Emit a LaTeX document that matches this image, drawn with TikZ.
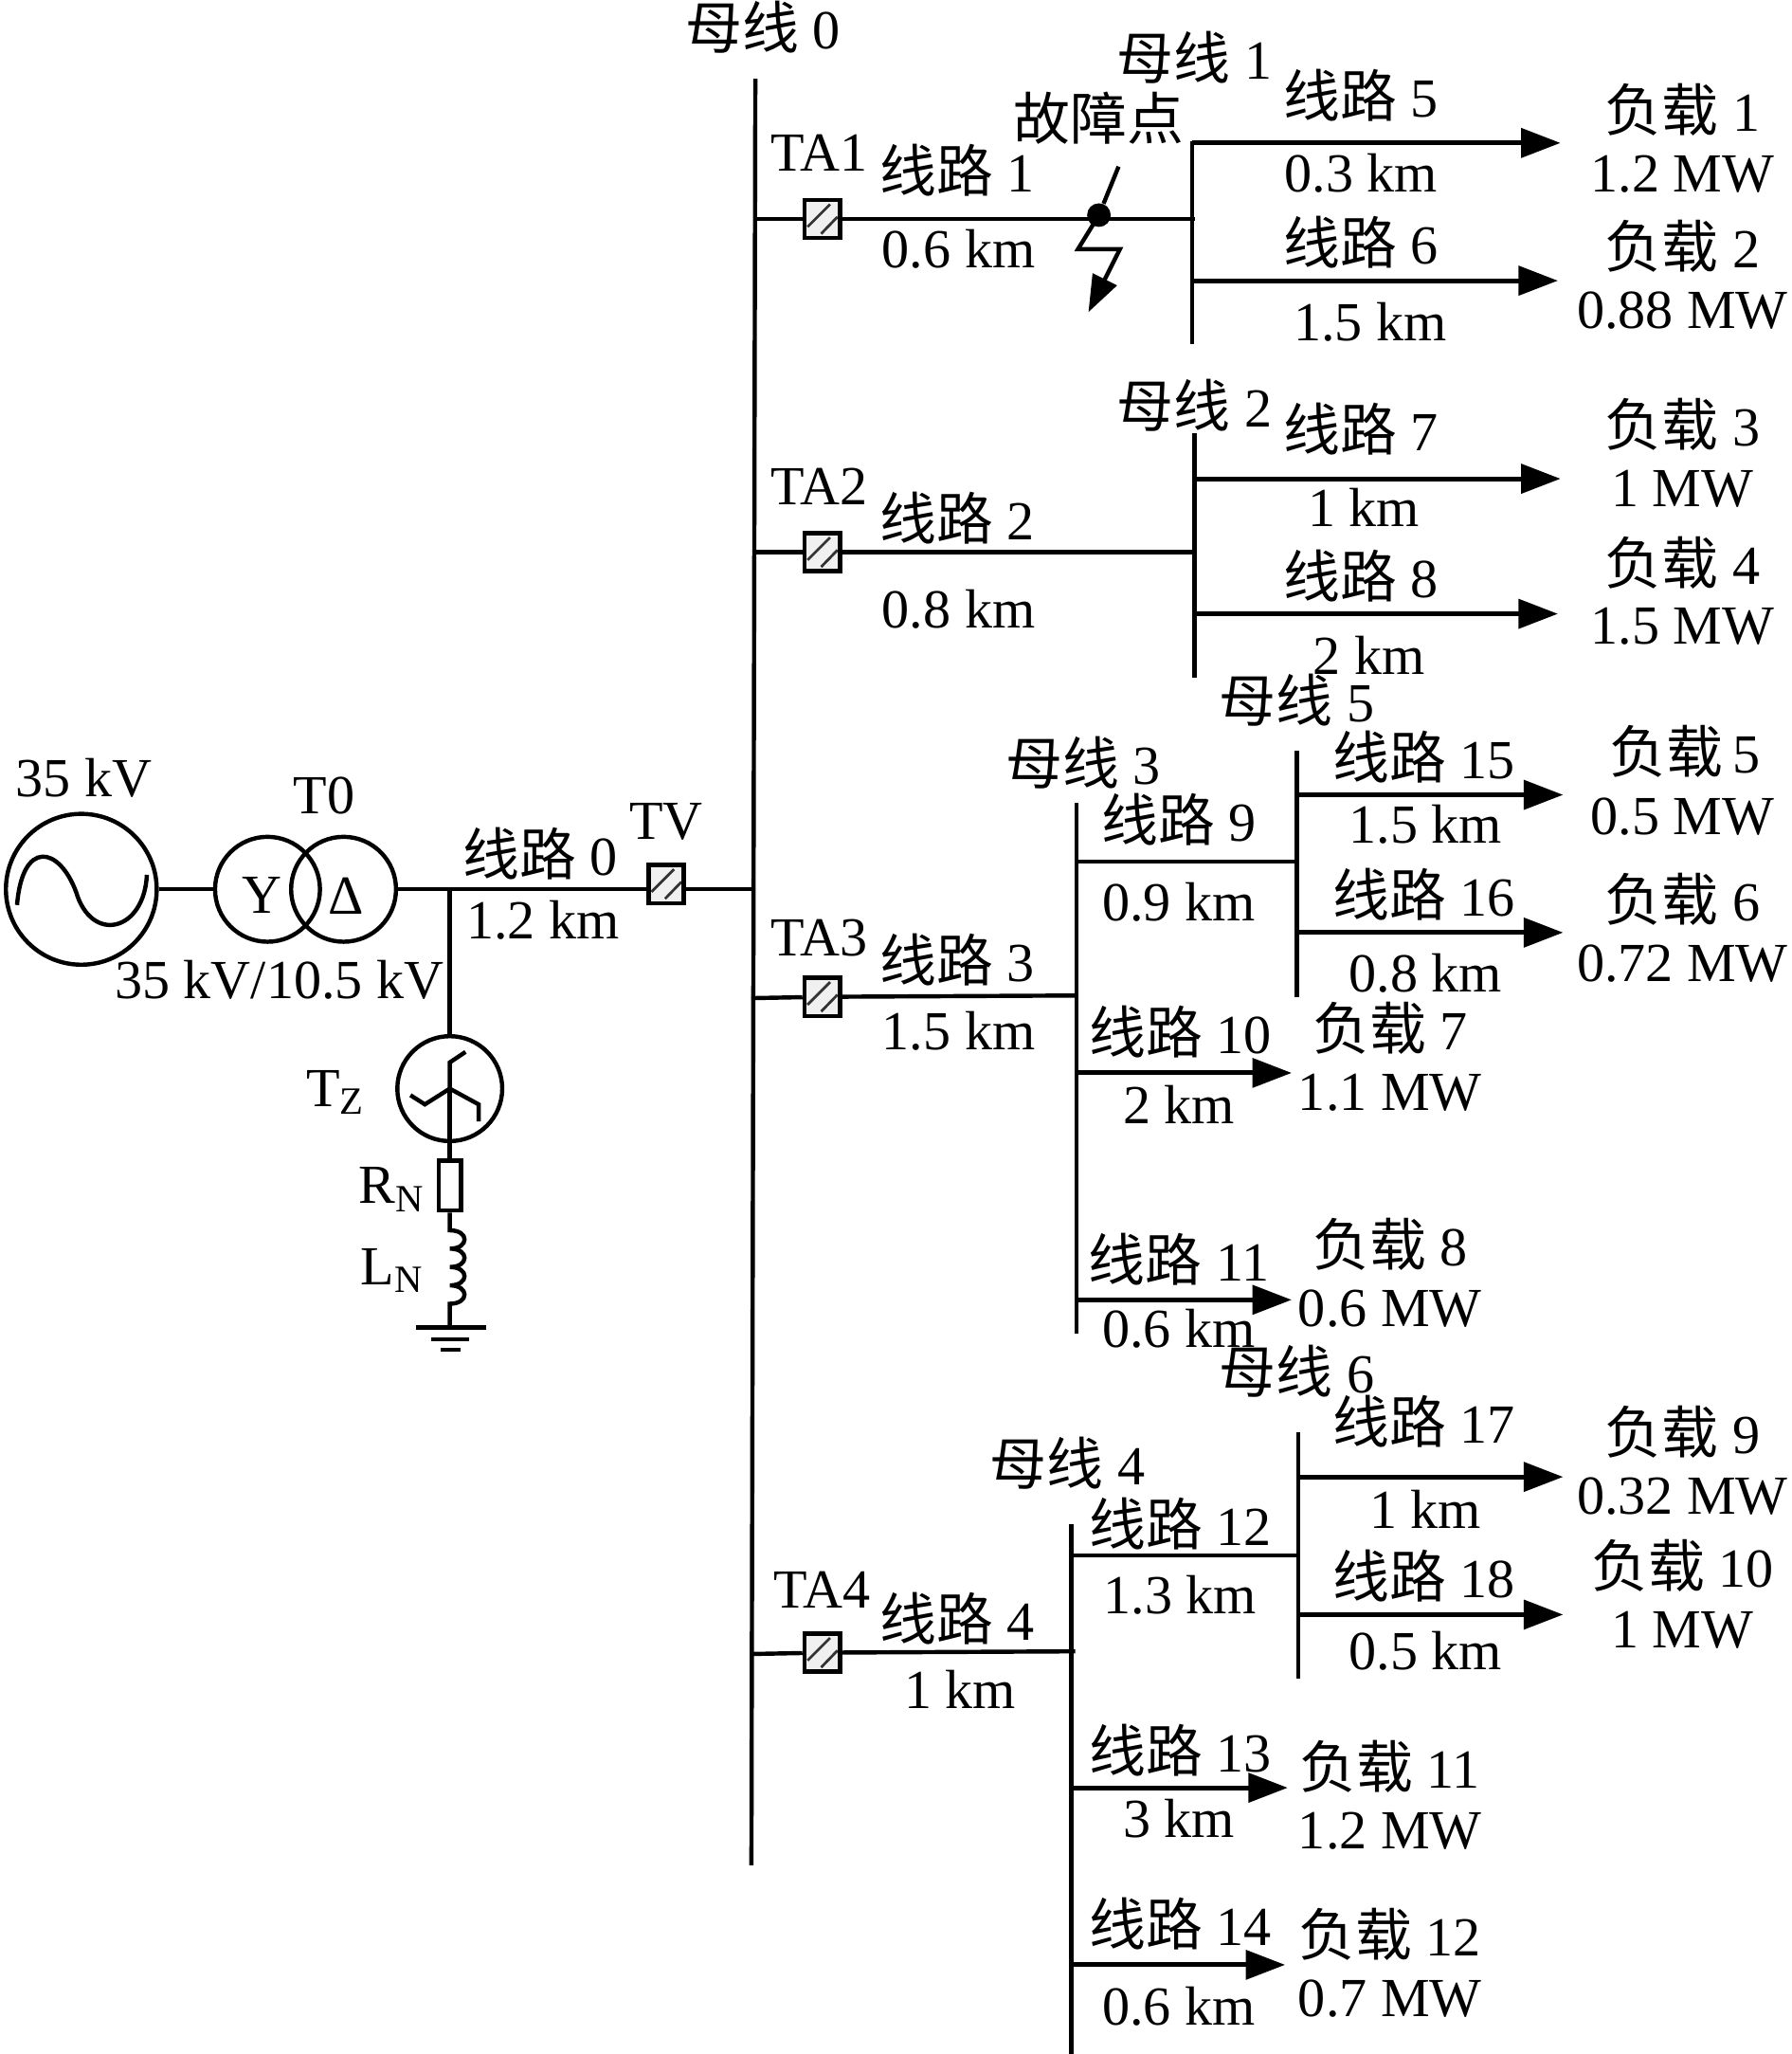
\documentclass[tikz,border=0pt]{standalone}
\usepackage{fontspec}
\setmainfont{Liberation Serif}
\newfontfamily\cjk[Scale=1.03]{Noto Sans CJK SC}
\usetikzlibrary{arrows.meta}
\newcommand{\BusLabel}[1]{{\cjk 母线}~#1}
\newcommand{\LineLabel}[1]{{\cjk 线路}~#1}
\newcommand{\LoadLabel}[1]{{\cjk 负载}~#1}
\tikzset{
    wire/.style={line width=1.6pt},
    feed/.style={line width=1.8pt,-{Triangle[length=15pt,width=11pt]}},
    lbl/.style={inner sep=0pt,yshift=0.6pt,font=\fontsize{21}{24}\selectfont},
    ta/.style={draw,line width=1.6pt,fill=black!6,minimum width=13.5pt,minimum height=14.5pt,inner sep=0pt,
        path picture={
            \draw[line width=1pt,black!80]
            ([shift={(-5.6pt,-3pt)}]path picture bounding box.center) -- ([shift={(3pt,5.6pt)}]path picture bounding box.center)
            ([shift={(-0.4pt,-5.6pt)}]path picture bounding box.center) -- ([shift={(5.8pt,0.8pt)}]path picture bounding box.center);
        }},
    gen/.style={draw,circle,line width=1.6pt,inner sep=0pt},
}
\begin{document}
\begin{tikzpicture}[x=0.5pt,y=-0.5pt]
    \useasboundingbox (0,0) rectangle (1366,1566);
    %%Bus 0
    \coordinate (b0t) at (576,60);
    \coordinate (b0b) at (573,1422);
    \draw[wire] (b0t) to (b0b);
    \node[lbl] (nb0) at (582,22) {\BusLabel{0}};
    %%Feeder 1
    \coordinate (b0a) at (575,167);
    \coordinate (b1) at (911,167);
    \coordinate (b1t) at (909,108);
    \coordinate (b1b) at (909,262);
    \coordinate (f1a) at (909,109);
    \coordinate (f1b) at (909,214);
    \coordinate (e5) at (1190,109);
    \coordinate (e6) at (1188,214);
    \node[ta] (ta1) at (627,167) {};
    \draw[wire] (b0a) to (ta1) to (b1);
    \draw[wire] (b1t) to (b1b);
    \draw[feed] (f1a) to (e5);
    \draw[feed] (f1b) to (e6);
    \node[lbl] (nta1) at (625,118) {TA1};
    \node[lbl] (nl1) at (730,131) {\LineLabel{1}};
    \node[lbl] (nd1) at (731,191) {0.6 km};
    \node[lbl] (nb1) at (911,45) {\BusLabel{1}};
    \node[lbl] (nfp) at (838,91) {{\cjk 故障点}};
    \node[lbl] (nl5) at (1038,74) {\LineLabel{5}};
    \node[lbl] (nd5) at (1038,133) {0.3 km};
    \node[lbl] (nl6) at (1038,186) {\LineLabel{6}};
    \node[lbl] (nd6) at (1045,247) {1.5 km};
    \node[lbl] (np1) at (1283,85) {\LoadLabel{1}};
    \node[lbl] (nw1) at (1283,134) {1.2 MW};
    \node[lbl] (np2) at (1283,189) {\LoadLabel{2}};
    \node[lbl] (nw2) at (1283,238) {0.88 MW};
    %%Fault
    \node[circle,fill,inner sep=0pt,minimum size=9pt] (fp) at (838,164) {};
    \coordinate (fa) at (853,127);
    \coordinate (fb) at (822,190);
    \coordinate (fc) at (854,190);
    \coordinate (fd) at (830,238);
    \draw[wire] (fa) to (fp);
    \draw[wire,-{Triangle[length=14pt,width=10pt]}] (fp.center) to (fb) to (fc) to (fd);
    %%Feeder 2
    \coordinate (b0c) at (575,421);
    \coordinate (b2) at (913,421);
    \coordinate (b2t) at (911,330);
    \coordinate (b2b) at (911,517);
    \coordinate (f2a) at (911,365);
    \coordinate (f2b) at (911,468);
    \coordinate (e7) at (1190,365);
    \coordinate (e8) at (1188,468);
    \node[ta] (ta2) at (627,421) {};
    \draw[wire] (b0c) to (ta2) to (b2);
    \draw[wire] (b2t) to (b2b);
    \draw[feed] (f2a) to (e7);
    \draw[feed] (f2b) to (e8);
    \node[lbl] (nta2) at (625,372) {TA2};
    \node[lbl] (nl2) at (730,396) {\LineLabel{2}};
    \node[lbl] (nd2) at (731,466) {0.8 km};
    \node[lbl] (nb2) at (911,310) {\BusLabel{2}};
    \node[lbl] (nl7) at (1038,328) {\LineLabel{7}};
    \node[lbl] (nd7) at (1040,388) {1 km};
    \node[lbl] (nl8) at (1038,440) {\LineLabel{8}};
    \node[lbl] (nd8) at (1044,501) {2 km};
    \node[lbl] (np3) at (1283,325) {\LoadLabel{3}};
    \node[lbl] (nw3) at (1283,374) {1 MW};
    \node[lbl] (np4) at (1283,430) {\LoadLabel{4}};
    \node[lbl] (nw4) at (1283,479) {1.5 MW};
    %%Feeder 3
    \coordinate (b0d) at (573,761);
    \coordinate (b3) at (821,759);
    \coordinate (b3t) at (821,612);
    \coordinate (b3b) at (821,1017);
    \coordinate (b3a) at (821,657);
    \coordinate (b5) at (989,657);
    \coordinate (b5t) at (989,572);
    \coordinate (b5b) at (989,760);
    \coordinate (f5a) at (989,606);
    \coordinate (f5b) at (989,711);
    \coordinate (e15) at (1192,606);
    \coordinate (e16) at (1192,711);
    \coordinate (f3a) at (821,818);
    \coordinate (f3b) at (821,991);
    \coordinate (e10) at (985,818);
    \coordinate (e11) at (985,991);
    \node[ta] (ta3) at (627,760) {};
    \draw[wire] (b0d) to (ta3) to (b3);
    \draw[wire] (b3t) to (b3b);
    \draw[wire] (b3a) to (b5);
    \draw[wire] (b5t) to (b5b);
    \draw[feed] (f5a) to (e15);
    \draw[feed] (f5b) to (e16);
    \draw[feed] (f3a) to (e10);
    \draw[feed] (f3b) to (e11);
    \node[lbl] (nta3) at (625,716) {TA3};
    \node[lbl] (nl3) at (730,733) {\LineLabel{3}};
    \node[lbl] (nd3) at (731,787) {1.5 km};
    \node[lbl] (nb3) at (826,583) {\BusLabel{3}};
    \node[lbl] (nl9) at (899,626) {\LineLabel{9}};
    \node[lbl] (nd9) at (899,689) {0.9 km};
    \node[lbl] (nb5) at (989,535) {\BusLabel{5}};
    \node[lbl] (nl15) at (1086,578) {\LineLabel{15}};
    \node[lbl] (nd15) at (1087,630) {1.5 km};
    \node[lbl] (nl16) at (1086,683) {\LineLabel{16}};
    \node[lbl] (nd16) at (1087,743) {0.8 km};
    \node[lbl] (nl10) at (900,788) {\LineLabel{10}};
    \node[lbl] (nd10) at (899,843) {2 km};
    \node[lbl] (nl11) at (899,961) {\LineLabel{11}};
    \node[lbl] (nd11) at (899,1014) {0.6 km};
    \node[lbl] (np5) at (1285,574) {{\cjk 负载}\,5};
    \node[lbl] (nw5) at (1283,624) {0.5 MW};
    \node[lbl] (np6) at (1283,687) {\LoadLabel{6}};
    \node[lbl] (nw6) at (1283,736) {0.72 MW};
    \node[lbl] (np7) at (1060,785) {\LoadLabel{7}};
    \node[lbl] (nw7) at (1060,834) {1.1 MW};
    \node[lbl] (np8) at (1060,950) {\LoadLabel{8}};
    \node[lbl] (nw8) at (1060,999) {0.6 MW};
    %%Feeder 4
    \coordinate (b0e) at (574,1261);
    \coordinate (b4) at (820,1259);
    \coordinate (b4t) at (817,1162);
    \coordinate (b4b) at (817,1566);
    \coordinate (b4a) at (817,1186);
    \coordinate (b6) at (990,1186);
    \coordinate (b6t) at (990,1092);
    \coordinate (b6b) at (990,1280);
    \coordinate (f6a) at (990,1126);
    \coordinate (f6b) at (990,1231);
    \coordinate (e17) at (1192,1126);
    \coordinate (e18) at (1192,1231);
    \coordinate (f4a) at (817,1363);
    \coordinate (f4b) at (817,1498);
    \coordinate (e13) at (982,1363);
    \coordinate (e14) at (980,1498);
    \node[ta] (ta4) at (627,1260) {};
    \draw[wire] (b0e) to (ta4) to (b4);
    \draw[wire] (b4t) to (b4b);
    \draw[wire] (b4a) to (b6);
    \draw[wire] (b6t) to (b6b);
    \draw[feed] (f6a) to (e17);
    \draw[feed] (f6b) to (e18);
    \draw[feed] (f4a) to (e13);
    \draw[feed] (f4b) to (e14);
    \node[lbl] (nta4) at (627,1213) {TA4};
    \node[lbl] (nl4) at (730,1235) {\LineLabel{4}};
    \node[lbl] (nd4) at (732,1289) {1 km};
    \node[lbl] (nb4) at (814,1117) {\BusLabel{4}};
    \node[lbl] (nl12) at (900,1163) {\LineLabel{12}};
    \node[lbl] (nd12) at (900,1217) {1.3 km};
    \node[lbl] (nb6) at (989,1047) {\BusLabel{6}};
    \node[lbl] (nl17) at (1086,1085) {\LineLabel{17}};
    \node[lbl] (nd17) at (1087,1152) {1 km};
    \node[lbl] (nl18) at (1086,1203) {\LineLabel{18}};
    \node[lbl] (nd18) at (1087,1260) {0.5 km};
    \node[lbl] (nl13) at (900,1336) {\LineLabel{13}};
    \node[lbl] (nd13) at (899,1388) {3 km};
    \node[lbl] (nl14) at (900,1468) {\LineLabel{14}};
    \node[lbl] (nd14) at (899,1531) {0.6 km};
    \node[lbl] (np9) at (1283,1093) {\LoadLabel{9}};
    \node[lbl] (nw9) at (1283,1142) {0.32 MW};
    \node[lbl] (np10) at (1283,1195) {\LoadLabel{10}};
    \node[lbl] (nw10) at (1283,1244) {1 MW};
    \node[lbl] (np11) at (1060,1348) {\LoadLabel{11}};
    \node[lbl] (nw11) at (1060,1397) {1.2 MW};
    \node[lbl] (np12) at (1060,1476) {\LoadLabel{12}};
    \node[lbl] (nw12) at (1060,1525) {0.7 MW};
    %%Source side
    \coordinate (b0f) at (575,678);
    \coordinate (tz) at (343,678);
    \node[gen,minimum size=57.5pt] (src) at (62,678) {};
    \node[gen,minimum size=40pt] (ty) at (204,678) {};
    \node[gen,minimum size=40pt] (td) at (262,678) {};
    \node[gen,minimum size=40pt] (tzn) at (343,830) {};
    \draw[wire] (src) to (ty);
    \draw[wire] (td) to (tz) to (b0f);
    \node[ta] (tv) at (508,674) {};
    \draw[wire] (tz) to (tzn);
    \draw[wire] (13,690) .. controls (17,640) and (45,645) .. (58,680) .. controls (70,720) and (110,710) .. (112,667);
    \node[lbl] (nsrc) at (64,594) {35 kV};
    \node[lbl] (nt0) at (247,608) {T0};
    \node[lbl] (ny) at (200,684) {Y};
    \node[lbl] (ndl) at (264,684) {Δ};
    \node[lbl] (nrt) at (213,748) {35 kV/10.5 kV};
    \node[lbl] (nl0) at (412,652) {\LineLabel{0}};
    \node[lbl] (nd0) at (414,703) {1.2 km};
    \node[lbl] (ntv) at (508,628) {TV};
    %%Zigzag and ground
    \coordinate (zu) at (343,810);
    \coordinate (zv) at (355,802);
    \coordinate (zw) at (324,842);
    \coordinate (zx) at (313,835);
    \coordinate (zy) at (365,842);
    \coordinate (zz) at (365,855);
    \draw[wire] (tzn.center) to (zu) to (zv);
    \draw[wire] (tzn.center) to (zw) to (zx);
    \draw[wire] (tzn.center) to (zy) to (zz);
    \node[draw,line width=1.6pt,minimum width=8.5pt,minimum height=19pt,inner sep=0pt] (rn) at (343,904) {};
    \coordinate (la) at (343,938);
    \coordinate (g) at (343,1012);
    \draw[wire] (tzn.center) to (rn);
    \draw[wire] (rn) to (la) .. controls (358,938) and (358,952) .. (343,952) .. controls (358,952) and (358,966) .. (343,966) .. controls (358,966) and (358,980) .. (343,980) .. controls (358,980) and (358,994) .. (343,994) to (g);
    \coordinate (ga) at (317,1012);
    \coordinate (gb) at (371,1012);
    \coordinate (gc) at (329,1021);
    \coordinate (gd) at (358,1021);
    \coordinate (ge) at (336,1029);
    \coordinate (gf) at (351,1029);
    \draw[wire] (ga) to (gb);
    \draw[wire] (gc) to (gd);
    \draw[wire] (ge) to (gf);
    \node[lbl] (ntz) at (256,834) {T$_{\mathrm{Z}}$};
    \node[lbl] (nrn) at (299,908) {R$_{\mathrm{N}}$};
    \node[lbl] (nln) at (299,970) {L$_{\mathrm{N}}$};
\end{tikzpicture}
\end{document}
